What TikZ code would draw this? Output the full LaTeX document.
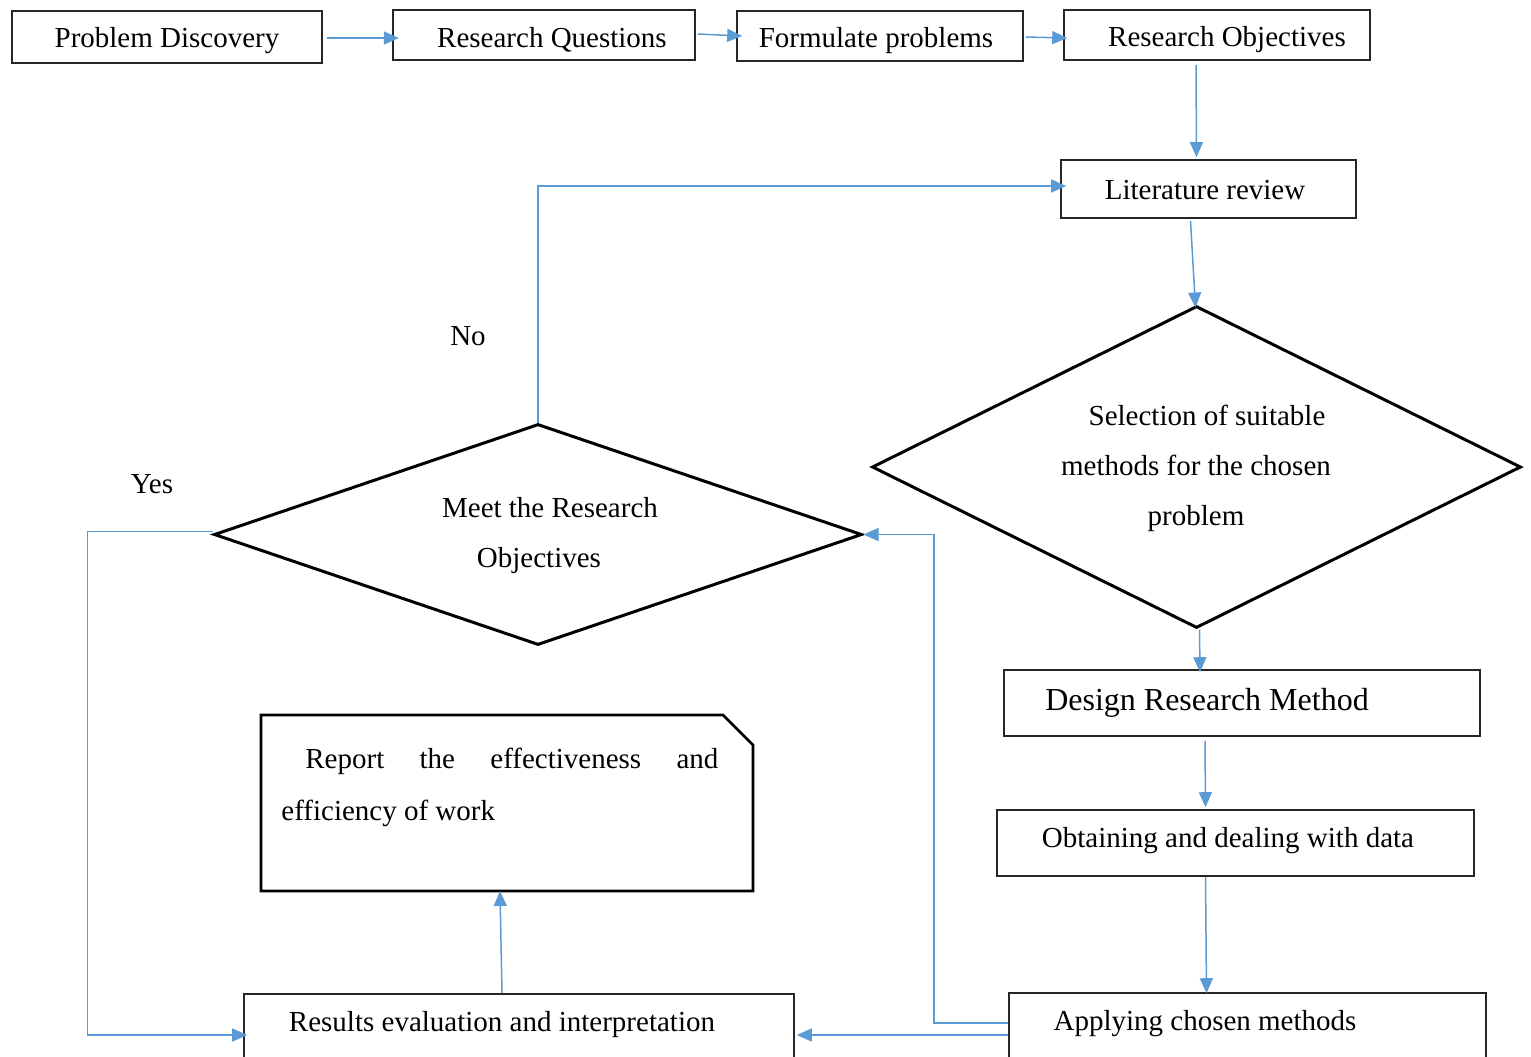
\documentclass[tikz,border=0pt]{standalone}
\usepackage{fontspec}
\setmainfont{Liberation Serif}
\usetikzlibrary{arrows.meta,shapes.geometric,calc}
\definecolor{flowblue}{RGB}{91,155,213}
\begin{document}
\begin{tikzpicture}[x=0.5pt,y=-0.5pt,
  every node/.style={font=\fontsize{14.5}{25}\selectfont},
  box/.style={draw=black!85,line width=0.8pt,rectangle,inner sep=0pt},
  decision/.style={draw,line width=1.5pt,diamond,inner sep=0pt},
  lbl/.style={inner sep=0pt,align=center},
  arr/.style={draw=flowblue,line width=0.75pt,-{Triangle[length=7.5pt,width=6.5pt]}},
  link/.style={draw=flowblue,line width=0.75pt}]
\clip (0,0) rectangle (1531,1056);
\fill[white] (0,0) rectangle (1531,1056);

% top row
\node[box,minimum width=155pt,minimum height=26pt] (pd) at (167,37) {};
\node[lbl] (pdt) at (167,41) {Problem Discovery};
\node[box,minimum width=151pt,minimum height=25pt] (rq) at (544,35) {};
\node[lbl] (rqt) at (552,40) {Research Questions};
\node[box,minimum width=143pt,minimum height=25pt] (fp) at (880,36) {};
\node[lbl] (fpt) at (876,41) {Formulate problems};
\node[box,minimum width=153pt,minimum height=25pt] (ro) at (1217,35) {};
\node[lbl] (rot) at (1227,40) {Research Objectives};

% literature review and method selection
\node[box,minimum width=147.5pt,minimum height=29pt] (lr) at (1208.5,189) {};
\node[lbl] (lrt) at (1205,190) {Literature review};
\node[decision,minimum width=324.5pt,minimum height=161pt] (sel) at (1196.5,467) {};
\node[lbl] (selt) at (1196,468) {\hspace*{11pt}Selection of suitable\\methods for the chosen\\problem};

% right column
\node[box,minimum width=238pt,minimum height=33pt] (dm) at (1242,703) {};
\node[lbl,font=\fontsize{16}{20}\selectfont] (dmt) at (1207,703) {Design Research Method};
\node[box,minimum width=238.5pt,minimum height=33pt] (ob) at (1235.5,843) {};
\node[lbl] (obt) at (1228,841) {Obtaining and dealing with data};
\node[box,minimum width=238.5pt,minimum height=42pt] (ap) at (1247.5,1035) {};
\node[lbl] (apt) at (1205,1024) {Applying chosen methods};

% evaluation and report
\node[box,minimum width=275pt,minimum height=41pt] (rs) at (519,1035) {};
\node[lbl] (rst) at (502,1025) {Results evaluation and interpretation};
\node[decision,minimum width=324pt,minimum height=110.5pt] (meet) at (538,534.5) {};
\node[lbl] (meett) at (539,536) {\hspace*{11pt}Meet the Research\\Objectives};

\draw[line width=1.4pt] (261,715) -- (723,715) -- (753,745) -- (753,891) -- (261,891) -- cycle;
\coordinate (rep) at (500,891);
\node[inner sep=0pt,anchor=base west] (rep1) at (305,768)
  {\makebox[206.5pt][s]{Report the effectiveness and}};
\node[inner sep=0pt,anchor=base west] (rep2) at (281,820) {efficiency of work};

\node[lbl] (no) at (468,336) {No};
\node[lbl] (yes) at (152,484) {Yes};

% connectors
\draw[arr] ($(pd.east)+(4,1)$) -- ($(pd.east)+(76,1)$);
\draw[arr] ($(rq.east)+(2,-1)$) -- ($(fp.west)+(6,0)$);
\draw[arr] ($(fp.east)+(2,1)$) -- ($(ro.west)+(4,3)$);
\draw[arr] ($(ro.south)+(-21,4)$) -- ($(lr.north)+(-12,-2)$);
\draw[arr] ($(lr.south)+(-18,2)$) -- ($(sel.north)+(-1,3)$);
\draw[arr] ($(sel.south)+(3,0)$) -- ($(dm.north)+(-42,3)$);
\draw[arr] ($(dm.south)+(-37,4)$) -- ($(ob.north)+(-30,-2)$);
\draw[arr] ($(ob.south)+(-30,0)$) -- ($(ap.north)+(-41,1)$);
\draw[arr] (ap.west) -- ($(rs.east)+(2,0)$);
\draw[arr] ($(ap.west)+(0,-12)$) -- ($(ap.west)+(-74,-12)$) |- (meet.east);
\draw[arr] (meet.north) |- ($(lr.west)+(6,-3)$);
\draw[arr] ($(meet.west)+(0,-3)$) -- ($(meet.west)+(-125,-3)$) |- ($(rs.west)+(4,0)$);
\draw[arr] ($(rs.north)+(-17,0)$) -- (rep);
\end{tikzpicture}
\end{document}
